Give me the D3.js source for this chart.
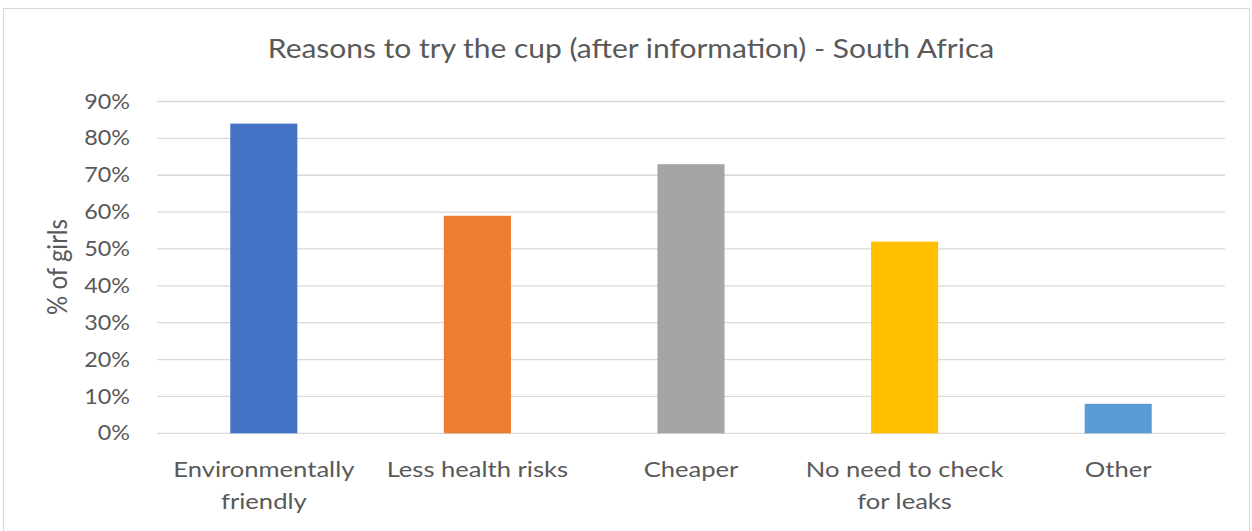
<!DOCTYPE html>
<html>
<head>
<meta charset="utf-8">
<script src="https://cdn.jsdelivr.net/npm/d3@7"></script>
<style>
  html, body { margin: 0; padding: 0; background: #fff; }
  svg { display: block; }
  text { font-family: Lato, "Open Sans", sans-serif; fill: #595959; }
</style>
</head>
<body>
<script>
// Reasons to try the cup (after information) - South Africa
const categories = [
  ["Environmentally", "friendly"],
  ["Less health risks"],
  ["Cheaper"],
  ["No need to check", "for leaks"],
  ["Other"]
];
const values = [0.84, 0.59, 0.73, 0.52, 0.08];
const colors = ["#4472C4", "#ED7D31", "#A5A5A5", "#FFC000", "#5B9BD5"];
const yTicks = [0, 0.1, 0.2, 0.3, 0.4, 0.5, 0.6, 0.7, 0.8, 0.9];
const titleText = "Reasons to try the cup (after information) - South Africa";
const yTitle = "% of girls";

const W = 1252, H = 531;
const plot = { left: 157, right: 1225, top: 101.5, bottom: 433.3 };
const wide = 1.19; // horizontal stretch of the lettering

const svg = d3.select("body").append("svg").attr("width", W).attr("height", H);

// chart frame
svg.append("rect")
  .attr("x", 3.5).attr("y", 8.5).attr("width", W - 6).attr("height", H)
  .attr("fill", "#fff").attr("stroke", "#d9d9d9").attr("stroke-width", 1);

const x = d3.scaleBand()
  .domain(d3.range(categories.length))
  .range([plot.left, plot.right])
  .paddingInner(0.686).paddingOuter(0.343);

const y = d3.scaleLinear().domain([0, 0.9]).range([plot.bottom, plot.top]);

// horizontal gridlines
svg.append("g").selectAll("line").data(yTicks).join("line")
  .attr("x1", plot.left).attr("x2", plot.right)
  .attr("y1", d => y(d)).attr("y2", d => y(d))
  .attr("stroke", "#d9d9d9").attr("stroke-width", 1.3);

// y axis labels
const yAxis = d3.axisLeft(y).tickValues(yTicks).tickFormat(d3.format(".0%")).tickSize(0).tickPadding(0);
const gy = svg.append("g").attr("transform", `translate(130,0) scale(1.14,1)`).call(yAxis);
gy.select(".domain").remove();
gy.selectAll("text").style("font-size", "20.5px").attr("fill", "#595959")
  .style("font-family", "Lato, sans-serif");

// bars
svg.append("g").selectAll("rect").data(values).join("rect")
  .attr("x", (d, i) => x(i))
  .attr("width", x.bandwidth())
  .attr("y", d => y(d))
  .attr("height", d => y(0) - y(d))
  .attr("fill", (d, i) => colors[i]);

// category labels
const lab = svg.append("g").selectAll("g").data(categories).join("g")
  .attr("transform", (d, i) => `translate(${x(i) + x.bandwidth() / 2},477) scale(${wide},1)`)
  .append("text")
  .attr("text-anchor", "middle")
  .style("font-size", "21.5px");
lab.selectAll("tspan").data(d => d).join("tspan")
  .attr("x", 0)
  .attr("dy", (d, i) => i === 0 ? 0 : 32)
  .text(d => d);

// title
svg.append("g").attr("transform", "translate(631,58) scale(1.11,1)")
  .append("text")
  .attr("text-anchor", "middle")
  .style("font-size", "27px")
  .text(titleText);

// y axis title
svg.append("text")
  .attr("transform", `translate(67,${267}) rotate(-90) scale(1,1.1)`)
  .attr("text-anchor", "middle")
  .style("font-size", "24px")
  .text(yTitle);
</script>
</body>
</html>
